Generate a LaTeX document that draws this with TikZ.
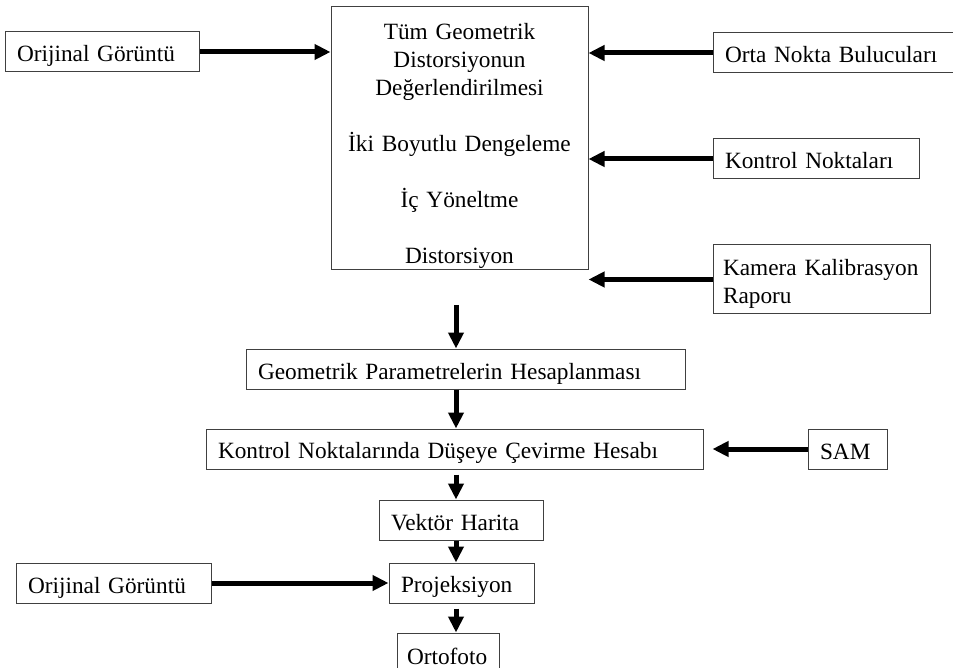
\documentclass[tikz,border=0pt]{standalone}
\usepackage{fontspec}
\setmainfont{Liberation Serif}
\usetikzlibrary{positioning,arrows.meta}

\tikzset{
  box/.style={draw=black!75, line width=1pt, inner xsep=12pt, inner ysep=0pt,
    minimum height=40pt, align=left, font=\fontsize{23.3}{28}\selectfont,
    execute at begin node={\rule[-5pt]{0pt}{30pt}}},
  arr/.style={line width=5pt, -{Triangle[length=16pt,width=15pt]}}
}

\begin{document}
\begin{tikzpicture}[x=1pt, y=-1pt]
  \useasboundingbox (0,0) rectangle (953,668);

  % Nodes
  \node[box, align=center, text width=233pt, minimum height=263pt] (main) at (459.5,138.5)
    {\rule{0pt}{31pt}Tüm Geometrik\\ Distorsiyonun\\ Değerlendirilmesi\\[28pt]
     İki Boyutlu Dengeleme\\[28pt] İç Yöneltme\\[28pt] Distorsiyon};

  \node[box, text width=170pt, left=131pt of main.north west, anchor=north east, yshift=-25pt] (orig1) {Orijinal Görüntü};

  \node[box, text width=224pt, right=124pt of main.north east, anchor=north west, yshift=-26pt] (orta) {Orta Nokta Bulucuları};
  \node[box, text width=182pt, below=65pt of orta.south west, anchor=north west] (kontrolN) {Kontrol Noktaları};
  \node[box, inner xsep=10pt, text width=197pt, minimum height=69pt, below=65pt of kontrolN.south west, anchor=north west] (kamera) {Kamera Kalibrasyon\\Raporu};

  \node[box, text width=415pt, below=78pt of main, xshift=6pt] (geom) {Geometrik Parametrelerin Hesaplanması};
  \node[box, text width=473pt, below=39pt of geom, xshift=-11pt] (kontrolD) {Kontrol Noktalarında Düşeye Çevirme Hesabı};
  \node[box, text width=55pt, right=104pt of kontrolD] (sam) {SAM};
  \node[box, text width=140pt, below=30pt of kontrolD, xshift=6.5pt] (vektor) {Vektör Harita};
  \node[box, text width=121pt, below=22pt of vektor, xshift=0.5pt] (proj) {Projeksiyon};
  \node[box, text width=171pt, left=177pt of proj] (orig2) {Orijinal Görüntü};
  \node[box, inner xsep=10pt, text width=82pt, minimum height=42pt, below=29pt of proj, xshift=-13.5pt] (ortofoto) {Ortofoto};

  % Arrows
  \coordinate (axis) at (456,0);
  \coordinate (a0) at (456,305);

  \draw[arr] (orig1.east) -- (orig1.east -| main.west);
  \draw[arr] (orta.west) -- (orta.west -| main.east);
  \draw[arr] (kontrolN.west) -- (kontrolN.west -| main.east);
  \draw[arr] (kamera.west) -- (kamera.west -| main.east);

  \draw[arr] (a0) -- (geom.north -| axis);
  \draw[arr] (geom.south -| axis) -- (kontrolD.north -| axis);
  \draw[arr, shorten <=5pt] (kontrolD.south -| axis) -- (vektor.north -| axis);
  \draw[arr] (vektor.south -| axis) -- (proj.north -| axis);
  \draw[arr, shorten <=5pt] (proj.south -| axis) -- (ortofoto.north -| axis);

  \draw[arr, shorten >=9pt] (sam.west) -- (sam.west -| kontrolD.east);
  \draw[arr] (orig2) -- (proj);

\end{tikzpicture}
\end{document}
